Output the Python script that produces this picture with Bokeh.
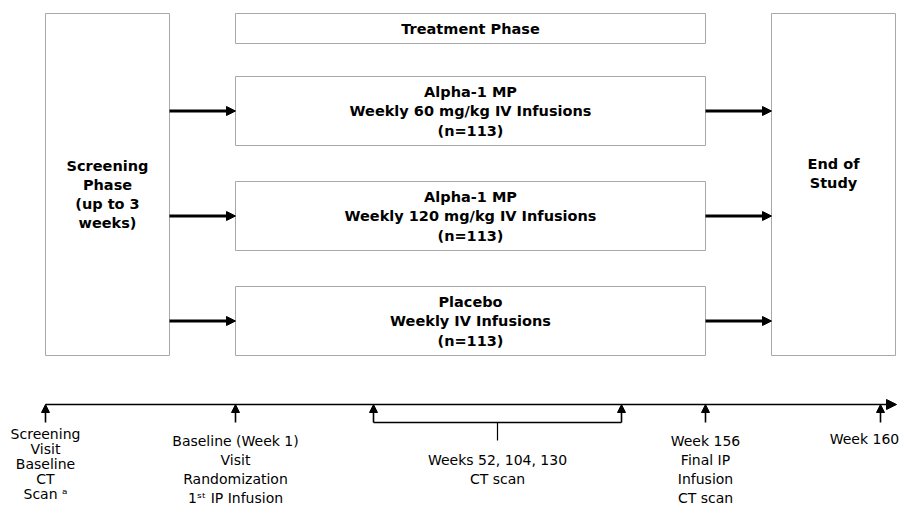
from bokeh.plotting import figure
from bokeh.models import Range1d, Arrow, NormalHead, ColumnDataSource
from bokeh.core.properties import value
from bokeh.embed import file_html
from bokeh.resources import INLINE

# ---- content ----
side_labels = ["Screening\nPhase\n(up to 3\nweeks)", "End of\nStudy"]
header_label = "Treatment Phase"
arm_labels = [
    "Alpha-1 MP\nWeekly 60 mg/kg IV Infusions\n(n=113)",
    "Alpha-1 MP\nWeekly 120 mg/kg IV Infusions\n(n=113)",
    "Placebo\nWeekly IV Infusions\n(n=113)",
]
timeline_labels = [
    "Screening\nVisit\nBaseline\nCT\nScan \u1d43",
    "Baseline (Week 1)\nVisit\nRandomization\n1\u02e2\u1d57 IP Infusion",
    "Weeks 52, 104, 130\nCT scan",
    "Week 156\nFinal IP\nInfusion\nCT scan",
    "Week 160",
]

# ---- layout (pixel coordinates) ----
W, H = 900, 505
p = figure(width=W, height=H, output_backend="svg", toolbar_location=None,
           x_range=Range1d(0, W), y_range=Range1d(H, 0),
           min_border=0, outline_line_color=None)
p.axis.visible = False
p.grid.visible = False
p.background_fill_color = "white"

FONT = value("DejaVu Sans")
BOX_LINE = "#a8a8a8"

# boxes
side_x = [(45, 169), (771, 895)]
box_top, box_bot = 13, 355
arm_y = [(76, 145), (181, 250), (286, 355)]
mid_l, mid_r = 235, 705

p.quad(left=[a for a, b in side_x], right=[b for a, b in side_x],
       top=[box_top] * 2, bottom=[box_bot] * 2,
       fill_color="white", line_color=BOX_LINE, line_width=1)
p.quad(left=[mid_l], right=[mid_r], top=[13], bottom=[43],
       fill_color="white", line_color=BOX_LINE, line_width=1)
p.quad(left=[mid_l] * 3, right=[mid_r] * 3,
       top=[a for a, b in arm_y], bottom=[b for a, b in arm_y],
       fill_color="white", line_color=BOX_LINE, line_width=1)

def centered_lines(label, cx, cy, lh):
    lines = label.split("\n")
    n = len(lines)
    return [cx] * n, [cy + (i - (n - 1) / 2) * lh for i in range(n)], lines

def top_lines(label, cx, y0, lh):
    lines = label.split("\n")
    return [cx] * len(lines), [y0 + i * lh for i in range(len(lines))], lines

bx, by, bt = [], [], []
for lab, (cx, cy) in zip(side_labels, [(107, 194), (833, 173)]):
    x, y, t = centered_lines(lab, cx, cy, 19.3)
    bx += x; by += y; bt += t
x, y, t = centered_lines(header_label, 470, 28.5, 19.5)
bx += x; by += y; bt += t
for lab, (a, b) in zip(arm_labels, arm_y):
    x, y, t = centered_lines(lab, 470, (a + b) / 2, 19.5)
    bx += x; by += y; bt += t
p.text(x=bx, y=by, text=bt, text_font=FONT, text_font_style="bold",
       text_font_size="14.5px", text_align="center", text_baseline="middle",
       text_color="black")

# horizontal arrows between boxes
ay = [(a + b) / 2 for a, b in arm_y]
arr = ColumnDataSource(dict(
    x0=[169] * 3 + [705] * 3, x1=[235] * 3 + [771] * 3,
    y0=ay + ay, y1=ay + ay))
p.add_layout(Arrow(source=arr, x_start="x0", y_start="y0", x_end="x1", y_end="y1",
                   line_width=3, line_color="black",
                   end=NormalHead(size=9, fill_color="black", line_color="black")))

# timeline
tl_y = 404
p.add_layout(Arrow(x_start=45, y_start=tl_y, x_end=896, y_end=tl_y,
                   line_width=1.6, line_color="black",
                   end=NormalHead(size=10, fill_color="black", line_color="black")))
tick_x = [45, 235, 373, 621, 705, 880]
tk = ColumnDataSource(dict(x=tick_x, y0=[422] * 6, y1=[tl_y] * 6))
p.add_layout(Arrow(source=tk, x_start="x", y_start="y0", x_end="x", y_end="y1",
                   line_width=1.6, line_color="black",
                   end=NormalHead(size=8, fill_color="black", line_color="black")))
# bracket
p.line(x=[373, 621], y=[422, 422], line_color="black", line_width=1.4)
p.line(x=[497, 497], y=[422, 440], line_color="black", line_width=1.2)

lx, ly, lt = [], [], []
for lab, (cx, y0, lh) in zip(timeline_labels,
                             [(45, 433, 15.2), (235, 440, 19.2), (497, 459, 19.2),
                              (705, 440, 19.2), (864, 438, 19.2)]):
    x, y, t = top_lines(lab, cx, y0, lh)
    lx += x; ly += y; lt += t
p.text(x=lx, y=ly, text=lt, text_font=FONT, text_font_size="14px",
       text_align="center", text_baseline="middle", text_color="black")

open("out.html", "w").write(file_html(p, INLINE))
